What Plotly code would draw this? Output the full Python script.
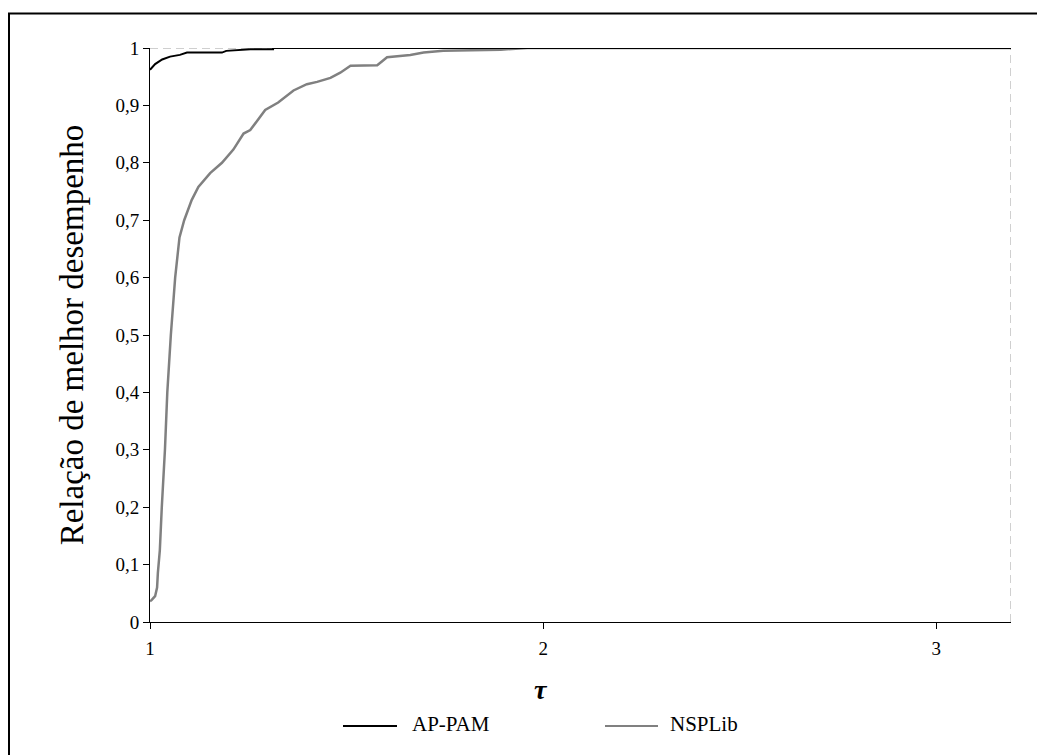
import plotly.graph_objects as go

# ---- data ----
series_names = ["AP-PAM", "NSPLib"]
series_colors = ["#000000", "#808080"]

ap_pam_tau = [1.0, 1.013, 1.031, 1.051, 1.076, 1.094, 1.183, 1.194, 1.255, 1.313, 1.313, 3.19]
ap_pam_rho = [0.962, 0.972, 0.980, 0.985, 0.988, 0.992, 0.992, 0.995, 0.998, 0.998, 1.0, 1.0]

nsplib_tau = [1.0, 1.004, 1.013, 1.018, 1.020, 1.025, 1.030, 1.038, 1.044, 1.053, 1.064,
              1.071, 1.075, 1.087, 1.106, 1.123, 1.153, 1.183, 1.212, 1.238, 1.255,
              1.293, 1.326, 1.365, 1.399, 1.425, 1.459, 1.484, 1.510, 1.578, 1.603,
              1.662, 1.696, 1.746, 1.892, 1.960, 3.19]
nsplib_rho = [0.036, 0.038, 0.045, 0.060, 0.085, 0.125, 0.200, 0.300, 0.400, 0.500, 0.600,
              0.648, 0.670, 0.700, 0.735, 0.758, 0.782, 0.800, 0.823, 0.851, 0.857,
              0.892, 0.905, 0.926, 0.937, 0.941, 0.948, 0.957, 0.969, 0.970, 0.984,
              0.988, 0.992, 0.995, 0.997, 1.000, 1.000]

x_ticks = [1, 2, 3]
y_ticks = [0, 0.1, 0.2, 0.3, 0.4, 0.5, 0.6, 0.7, 0.8, 0.9, 1]
y_tick_labels = ["0", "0,1", "0,2", "0,3", "0,4", "0,5", "0,6", "0,7", "0,8", "0,9", "1"]
x_range = [1, 3.19]
y_title = "Relação de melhor desempenho"
x_title = "<b><i>τ</i></b>"

FONT = "Liberation Serif"
OFF = 8  # page body margin
W, H = 1045 - OFF, 755 - OFF
L, T = 150 - OFF, 48 - OFF
R = W - (1011 - OFF)
B = H - (622 - OFF)
pw, ph = W - L - R, H - T - B


def px_x(p):
    return (p - OFF - L) / pw


def px_y(p):
    return (H - B - (p - OFF)) / ph


fig = go.Figure()
fig.add_trace(go.Scatter(x=nsplib_tau, y=nsplib_rho, mode="lines", name=series_names[1],
                         line=dict(color=series_colors[1], width=2.5), showlegend=False))
fig.add_trace(go.Scatter(x=ap_pam_tau, y=ap_pam_rho, mode="lines", name=series_names[0],
                         line=dict(color=series_colors[0], width=2), showlegend=False))

shapes = []
dash_line = dict(color="#c0c0c0", width=1.5, dash="8px,5px")
shapes.append(dict(type="line", xref="x", yref="y", x0=x_range[0], x1=x_range[1], y0=1, y1=1,
                   line=dash_line, layer="below"))
shapes.append(dict(type="line", xref="x", yref="y", x0=x_range[1], x1=x_range[1], y0=0, y1=1,
                   line=dash_line, layer="below"))
# outer frame
shapes.append(dict(type="rect", xref="paper", yref="paper",
                   x0=px_x(9), x1=px_x(1090), y0=px_y(800), y1=px_y(13.5),
                   line=dict(color="#000000", width=2), fillcolor="rgba(0,0,0,0)"))

annotations = []
# manual legend
leg = [(343, 397, 410), (605, 658, 668)]
for (a, b, t), name, col in zip(leg, series_names, series_colors):
    shapes.append(dict(type="line", xref="paper", yref="paper", x0=px_x(a), x1=px_x(b),
                       y0=px_y(726), y1=px_y(726), line=dict(color=col, width=2)))
    annotations.append(dict(text=name, xref="paper", yref="paper", x=px_x(t), y=px_y(724),
                            xanchor="left", yanchor="middle", showarrow=False,
                            font=dict(family=FONT, size=21, color="black")))
# x-axis title (tau)
annotations.append(dict(text=x_title, xref="paper", yref="paper", x=px_x(541), y=px_y(689),
                        xanchor="center", yanchor="middle", showarrow=False,
                        font=dict(family=FONT, size=28, color="black")))

fig.update_layout(
    width=W, height=H,
    margin=dict(l=L, r=R, t=T, b=B),
    paper_bgcolor="white", plot_bgcolor="white",
    font=dict(family=FONT, color="black"),
    shapes=shapes, annotations=annotations,
    xaxis=dict(range=x_range, tickvals=x_ticks, ticks="outside", ticklen=6, tickwidth=1,
               tickcolor="black", showline=True, linecolor="black", linewidth=1,
               showgrid=False, zeroline=False, tickfont=dict(family=FONT, size=19),
               ticklabelstandoff=3),
    yaxis=dict(range=[0, 1], tickvals=y_ticks, ticktext=y_tick_labels, ticks="outside",
               ticklen=6, tickwidth=1, tickcolor="black", showline=True, linecolor="black",
               linewidth=1, showgrid=False, zeroline=False,
               tickfont=dict(family=FONT, size=19),
               title=dict(text=y_title, font=dict(family=FONT, size=33), standoff=21)),
)

fig.write_html("out.html")
